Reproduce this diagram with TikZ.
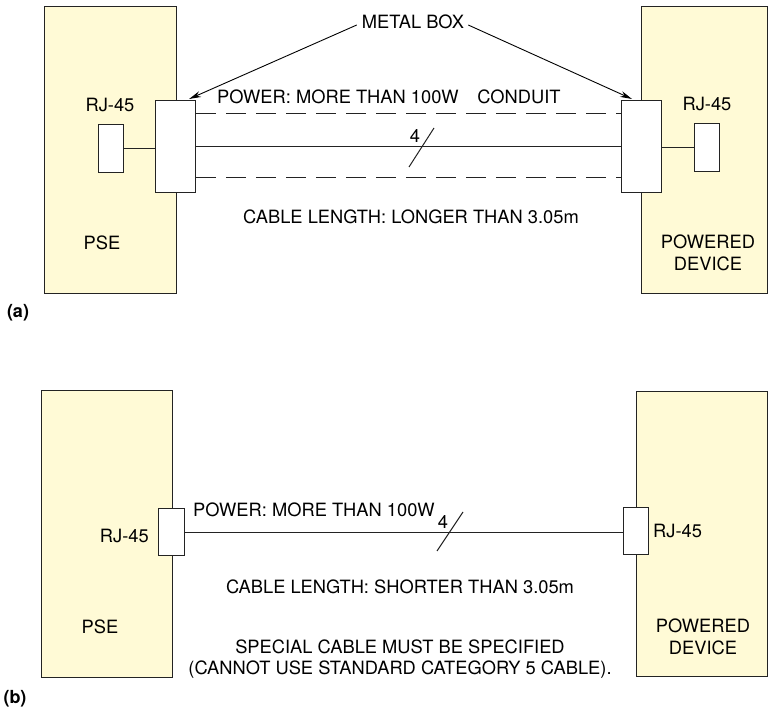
\documentclass[tikz,border=0pt]{standalone}
\usepackage{fontspec}
\setmainfont{TeX Gyre Heros}
\usetikzlibrary{arrows.meta}
\definecolor{devfill}{RGB}{255,250,214}
\definecolor{ink}{RGB}{35,35,35}
\tikzset{
  devbox/.style={draw=ink, fill=devfill, line width=1.1pt, inner sep=0pt, anchor=north west},
  plugbox/.style={draw=ink, fill=white, line width=1.1pt, inner sep=0pt, anchor=north west},
  lbl/.style={font=\fontsize{18.3}{21.5}\selectfont, inner sep=0pt, text=black},
  tag/.style={font=\fontsize{18}{21}\selectfont\bfseries, inner sep=0pt},
  wire/.style={draw=ink, line width=1pt},
  conduit/.style={draw=ink, line width=1pt, dash pattern=on 20pt off 10pt},
  pointer/.style={draw=black, line width=0.9pt, -{Stealth[length=12pt,width=6pt]}}
}
\begin{document}
\begin{tikzpicture}[x=1pt,y=-1pt]
\useasboundingbox (0,0) rectangle (768,708);
% ---------- panel (a) ----------
\node[devbox, minimum width=132pt, minimum height=287pt] (pseA) at (44,6) {};
\node[devbox, minimum width=126pt, minimum height=287pt] (pdA) at (641,6) {};
\node[plugbox, minimum width=25pt, minimum height=48pt] (rjA1) at (98,124) {};
\node[plugbox, minimum width=25pt, minimum height=48pt] (rjA2) at (694,123) {};
\node[plugbox, minimum width=40pt, minimum height=92pt] (mbA1) at (155,100) {};
\node[plugbox, minimum width=40pt, minimum height=92pt] (mbA2) at (621,100) {};

\draw[wire] (rjA1.east) -- (rjA1.east -| mbA1.west);
\draw[wire] (rjA2.west) -- (rjA2.west -| mbA2.east);
\draw[wire] (mbA1.east) -- (mbA2.west);
\draw[conduit] (mbA1.east |- 0,114) -- (mbA2.west |- 0,114);
\draw[conduit] (mbA1.east |- 0,178) -- (mbA2.west |- 0,178);

\coordinate (slA1) at (409,167);
\coordinate (slA2) at (434,128);
\draw[wire] (slA1) -- (slA2);
\node[lbl] (fourA) at (415,136) {4};

\node[lbl] (rjlA1) at (110,105) {RJ-45};
\node[lbl] (rjlA2) at (707,104) {RJ-45};
\node[lbl] (pseLA) at (102,243) {PSE};
\node[lbl, align=center] (pdLA) at (708,253) {POWERED\\DEVICE};
\node[lbl, anchor=west] (powA) at (217,97) {POWER: MORE THAN 100W};
\node[lbl] (condA) at (519,97) {CONDUIT};
\node[lbl] (lenA) at (411,217) {CABLE LENGTH: LONGER THAN 3.05m};
\node[lbl] (metal) at (413,22) {METAL BOX};
\draw[pointer] ([xshift=-5pt,yshift=-3pt]metal.west) -- ([xshift=-7pt,yshift=1pt]mbA1.north east);
\draw[pointer] ([xshift=4pt,yshift=-3pt]metal.east) -- ([xshift=11pt,yshift=1pt]mbA2.north west);
\node[tag] (tagA) at (18,313) {(a)};

% ---------- panel (b) ----------
\node[devbox, minimum width=131pt, minimum height=287pt] (pseB) at (41,390) {};
\node[devbox, minimum width=131pt, minimum height=285pt] (pdB) at (636,391) {};
\node[plugbox, minimum width=26pt, minimum height=47pt] (rjB1) at (158,508) {};
\node[plugbox, minimum width=25pt, minimum height=47pt] (rjB2) at (623,507) {};
\draw[wire] (rjB1.east) -- (rjB1.east -| rjB2.west);

\coordinate (slB1) at (437,551);
\coordinate (slB2) at (463,512);
\draw[wire] (slB1) -- (slB2);
\node[lbl] (fourB) at (443,522) {4};

\node[lbl, anchor=east] (rjlB1) at (149,536) {RJ-45};
\node[lbl, anchor=west] (rjlB2) at (653,531) {RJ-45};
\node[lbl] (pseLB) at (100,627) {PSE};
\node[lbl, align=center] (pdLB) at (703,637) {POWERED\\DEVICE};
\node[lbl, anchor=west] (powB) at (193,510) {POWER: MORE THAN 100W};
\node[lbl] (lenB) at (400,587) {CABLE LENGTH: SHORTER THAN 3.05m};
\node[lbl, align=center] (specB) at (400,659) {SPECIAL CABLE MUST BE SPECIFIED\\(CANNOT USE STANDARD CATEGORY 5 CABLE).};
\node[tag] (tagB) at (15,699) {(b)};
\end{tikzpicture}
\end{document}
